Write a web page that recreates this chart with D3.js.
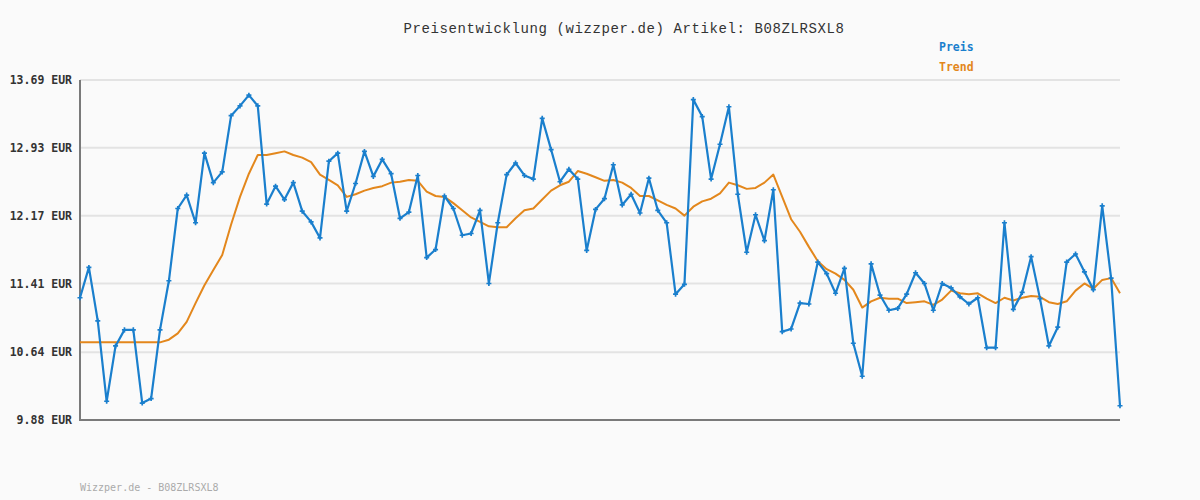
<!DOCTYPE html>
<html>
<head>
<meta charset="utf-8">
<script src="https://cdn.jsdelivr.net/npm/d3@7"></script>
<style>
  html, body { margin: 0; padding: 0; background: #fafafa; }
  svg { display: block; }
</style>
</head>
<body>
<svg id="chart" width="1200" height="500"></svg>
<script>
const titleText = "Preisentwicklung (wizzper.de) Artikel: B08ZLRSXL8";
const footerText = "Wizzper.de - B08ZLRSXL8";
const seriesNames = ["Preis", "Trend"];
const yTickValues = [9.88, 10.64, 11.41, 12.17, 12.93, 13.69];
const yTickLabels = ["9.88 EUR", "10.64 EUR", "11.41 EUR", "12.17 EUR", "12.93 EUR", "13.69 EUR"];

const preis = [
  11.25, 11.59, 10.99, 10.09, 10.71, 10.89, 10.89, 10.07, 10.12, 10.89,
  11.44, 12.25, 12.40, 12.09, 12.87, 12.54, 12.66, 13.29, 13.40, 13.52,
  13.40, 12.30, 12.50, 12.35, 12.54, 12.22, 12.10, 11.92, 12.78, 12.87,
  12.22, 12.53, 12.89, 12.61, 12.80, 12.64, 12.14, 12.21, 12.62, 11.70,
  11.79, 12.39, 12.25, 11.95, 11.97, 12.23, 11.41, 12.09, 12.63, 12.76,
  12.62, 12.58, 13.26, 12.91, 12.55, 12.69, 12.58, 11.78, 12.24, 12.36,
  12.74, 12.29, 12.41, 12.20, 12.59, 12.23, 12.09, 11.29, 11.40, 13.47,
  13.28, 12.58, 12.97, 13.39, 12.41, 11.76, 12.18, 11.89, 12.46, 10.87,
  10.90, 11.19, 11.18, 11.65, 11.52, 11.30, 11.58, 10.74, 10.37, 11.63,
  11.28, 11.11, 11.13, 11.29, 11.53, 11.41, 11.11, 11.41, 11.36, 11.26,
  11.18, 11.25, 10.69, 10.69, 12.09, 11.12, 11.31, 11.71, 11.24, 10.71,
  10.92, 11.65, 11.74, 11.54, 11.34, 12.28, 11.47, 10.04
];

const trend = [
  10.75, 10.75, 10.75, 10.75, 10.75, 10.75, 10.75, 10.75, 10.75, 10.75,
  10.78, 10.85, 10.98, 11.19, 11.39, 11.56, 11.73, 12.07, 12.38, 12.64,
  12.85, 12.85, 12.87, 12.89, 12.85, 12.82, 12.77, 12.63, 12.57, 12.51,
  12.38, 12.41, 12.45, 12.48, 12.50, 12.54, 12.55, 12.57, 12.56, 12.44,
  12.39, 12.38, 12.31, 12.23, 12.15, 12.10, 12.05, 12.04, 12.04, 12.14,
  12.23, 12.25, 12.35, 12.45, 12.51, 12.55, 12.67, 12.64, 12.60, 12.56,
  12.57, 12.54, 12.48, 12.39, 12.39, 12.34, 12.29, 12.25, 12.17, 12.27,
  12.33, 12.36, 12.42, 12.54, 12.51, 12.47, 12.48, 12.54, 12.63, 12.38,
  12.13, 11.99, 11.82, 11.66, 11.57, 11.52, 11.45, 11.34, 11.14, 11.21,
  11.25, 11.24, 11.24, 11.19, 11.20, 11.21, 11.17, 11.23, 11.33, 11.30,
  11.29, 11.30, 11.24, 11.19, 11.25, 11.22, 11.25, 11.27, 11.26, 11.20,
  11.18, 11.21, 11.33, 11.41, 11.35, 11.45, 11.47, 11.30
];

const colors = { preis: "#1a7fcd", trend: "#e3871c" };

const svg = d3.select("#chart");
const W = 1200, H = 500;
const m = { left: 80, right: 1120, top: 80, bottom: 420 };

svg.append("rect").attr("width", W).attr("height", H).attr("fill", "#fafafa");

const x = d3.scaleLinear().domain([0, preis.length - 1]).range([m.left, m.right]);
const y = d3.scaleLinear().domain([yTickValues[0], yTickValues[yTickValues.length - 1]]).range([m.bottom, m.top]);

// grid lines
svg.append("g").selectAll("line").data(yTickValues.slice(1)).join("line")
  .attr("x1", m.left).attr("x2", m.right)
  .attr("y1", d => y(d)).attr("y2", d => y(d))
  .attr("stroke", "#e3e3e3").attr("stroke-width", 2);

// y axis
const yAxis = d3.axisLeft(y)
  .tickValues(yTickValues)
  .tickFormat((d, i) => yTickLabels[i])
  .tickSize(0).tickPadding(8);
const gy = svg.append("g").attr("transform", `translate(${m.left},0)`).call(yAxis);
gy.select(".domain").remove();
gy.selectAll("text")
  .attr("font-family", "'DejaVu Sans Mono', monospace")
  .attr("font-weight", "bold")
  .attr("font-size", "11.5px")
  .attr("fill", "#333");

// axis lines
svg.append("line").attr("x1", m.left).attr("x2", m.left).attr("y1", m.top).attr("y2", m.bottom + 1)
  .attr("stroke", "#7a7a7a").attr("stroke-width", 2);
svg.append("line").attr("x1", m.left - 1).attr("x2", m.right).attr("y1", m.bottom).attr("y2", m.bottom)
  .attr("stroke", "#7a7a7a").attr("stroke-width", 2);

// trend line
const line = d3.line().x((d, i) => x(i)).y(d => y(d));
svg.append("path").datum(trend)
  .attr("d", line).attr("fill", "none")
  .attr("stroke", colors.trend).attr("stroke-width", 2)
  .attr("stroke-linejoin", "round");

// price line
svg.append("path").datum(preis)
  .attr("d", line).attr("fill", "none")
  .attr("stroke", colors.preis).attr("stroke-width", 2.2)
  .attr("stroke-linejoin", "round");

// markers
const sym = d3.symbol().type(d3.symbolCross).size(14);
svg.append("g").selectAll("path").data(preis).join("path")
  .attr("d", sym)
  .attr("transform", (d, i) => `translate(${x(i)},${y(d)})`)
  .attr("fill", colors.preis);

// title
svg.append("text")
  .attr("x", 624).attr("y", 33)
  .attr("text-anchor", "middle")
  .attr("font-family", "'Liberation Mono', 'DejaVu Sans Mono', monospace")
  .attr("font-size", "14px")
  .attr("letter-spacing", "0.6px")
  .attr("fill", "#333")
  .text(titleText);

// legend
svg.append("text").attr("x", 939).attr("y", 51)
  .attr("font-family", "'DejaVu Sans Mono', monospace")
  .attr("font-weight", "bold").attr("font-size", "11.5px")
  .attr("fill", colors.preis).text(seriesNames[0]);
svg.append("text").attr("x", 939).attr("y", 71)
  .attr("font-family", "'DejaVu Sans Mono', monospace")
  .attr("font-weight", "bold").attr("font-size", "11.5px")
  .attr("fill", colors.trend).text(seriesNames[1]);

// footer
svg.append("text").attr("x", 80).attr("y", 491)
  .attr("font-family", "'DejaVu Sans Mono', monospace")
  .attr("font-size", "10px")
  .attr("fill", "#aaa").text(footerText);
</script>
</body>
</html>
